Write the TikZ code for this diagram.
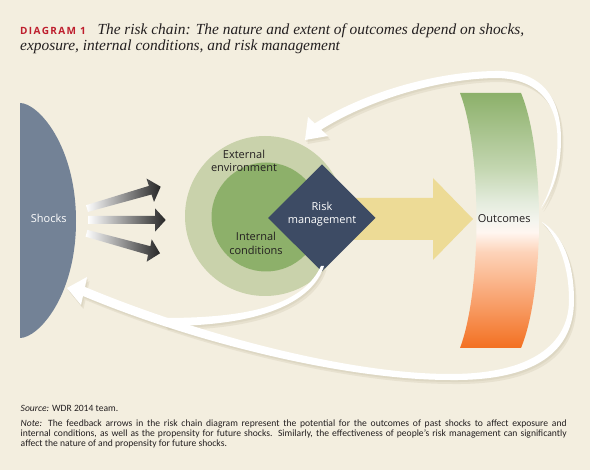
\documentclass[tikz,border=0pt]{standalone}
\usepackage{fontspec}
\setmainfont{Liberation Serif}
\setsansfont{Open Sans}
\newfontfamily\labfont{Open Sans}
\newfontfamily\notefont{Carlito}
\newfontfamily\capfont[LetterSpace=14]{Open Sans}
\definecolor{bg}{HTML}{F3EEDF}
\definecolor{shockc}{HTML}{738296}
\definecolor{outerc}{HTML}{C9D2AB}
\definecolor{innerc}{HTML}{8DB06A}
\definecolor{diamc}{HTML}{3D4B64}
\definecolor{yelc}{HTML}{EDDB96}
\definecolor{darktext}{HTML}{231F20}
\definecolor{titlered}{HTML}{BE1E2D}
\definecolor{shadowc}{HTML}{BDB49A}
\definecolor{oc0}{HTML}{F37021}
\definecolor{oc1}{HTML}{F8A06B}
\definecolor{oc2}{HTML}{FDD3B9}
\definecolor{oc3}{HTML}{FFF6F0}
\definecolor{oc4}{HTML}{F5F5EF}
\definecolor{oc5}{HTML}{E4ECDD}
\definecolor{oc6}{HTML}{C3D6B0}
\definecolor{oc7}{HTML}{8CB06A}
\pgfdeclareverticalshading{outcomesh}{100bp}{color(0bp)=(oc0); color(25bp)=(oc0); color(34bp)=(oc1); color(43.8bp)=(oc2); color(47.7bp)=(oc3); color(49.7bp)=(oc4); color(53.6bp)=(oc5); color(60.3bp)=(oc6); color(75bp)=(oc7); color(100bp)=(oc7)}
\def\TopArrow{(314.8,123.4) .. controls (360,95) and (430,72) .. (495,71) .. controls (540,70) and (561,95) .. (561,140) .. controls (561,170) and (552,193) .. (541,208) .. controls (551,190) and (557.5,168) .. (557.5,140) .. controls (557.5,100) and (535,78) .. (495,78) .. controls (435,79) and (365,102) .. (321.2,129.6) -- (328,136) -- (305,140) -- (308,117) -- cycle}
\def\BotArrow{(85,287) .. controls (200,335) and (350,374) .. (450,374) .. controls (530,374) and (569,345) .. (569,300) .. controls (569,262) and (556,236) .. (542,222) .. controls (562,234) and (574,262) .. (574,300) .. controls (574,352) and (535,381) .. (450,380) .. controls (350,380) and (200,345) .. (83,296) -- (81,305) -- (67,288) -- (87,277) -- cycle}
\def\BranchArrow{(321,266) .. controls (305,300) and (262,318) .. (165,318) -- (165,326) .. controls (262,326) and (312,302) .. (324,266) -- cycle}
\begin{document}
\begin{tikzpicture}[x=1pt,y=-1pt,
  lab/.style={font=\labfont\fontsize{11}{13.5}\selectfont, align=center, inner sep=0pt, text=darktext},
  shockarrow/.style={left color=white, right color=black!85},
  whitearrow/.style={fill=white},
  shadowlayer/.style={fill=shadowc, opacity=0.22},
  titletext/.style={anchor=base west, inner sep=0pt, text=darktext, font=\itshape\fontsize{15.4}{17}\selectfont},
  notetext/.style={font=\notefont\fontsize{9.6}{9.7}\selectfont, text=darktext, inner sep=0pt, anchor=base west}]
\useasboundingbox (0,0) rectangle (590,470);
\fill[bg] (0,0) rectangle (590,470);
% title
\node[anchor=base west, inner sep=0pt, text=titlered, font=\capfont\bfseries\fontsize{10}{11}\selectfont] (dlabel) at (20,35) {DIAGRAM 1};
\node[titletext] (title1) at (97.3,35) {The risk chain: The nature and extent of outcomes depend on shocks,};
\node[titletext] (title2) at (20,50.5) {exposure, internal conditions, and risk management};
% shocks
\fill[shockc] (20,103) .. controls (38,103) and (76,145) .. (76,221) .. controls (76,297) and (38,338) .. (20,338) -- cycle;
\node[lab, text=white] (shocks) at (48.7,218) {Shocks};
% shock arrows
\shade[shockarrow] (86,205.2) -- (148.9,185.9) -- (146.5,178.5) -- (160.7,186.7) -- (154,202) -- (151.5,194.5) -- (88,211.9) -- cycle;
\shade[shockarrow] (88,216) -- (155,216) -- (155,208.3) -- (165.7,220) -- (155,231.7) -- (155,224) -- (88,224) -- cycle;
\shade[shockarrow] (87.4,229.9) -- (150.4,246.2) -- (151.7,239.3) -- (160,253.3) -- (146.7,261.7) -- (148,254.8) -- (85.6,236.7) -- cycle;
% circles
\fill[outerc] (265,216) circle[radius=80];
\fill[innerc] (266,217) circle[radius=54.5];
% yellow arrow
\fill[yelc] (345,198) -- (433,198) -- (433,178) -- (473,219) -- (433,260) -- (433,240) -- (345,240) -- cycle;
% diamond
\fill[diamc] (268,218) -- (322,164.5) -- (375.5,218) -- (322,271.5) -- cycle;
\node[lab] (ext) at (244,161) {External\\environment};
\node[lab] (int) at (256,243.5) {Internal\\conditions};
\node[lab, text=white] (risk) at (322,214) {Risk\\management};
% outcomes band
\shade[shading=outcomesh] (460,93) -- (521,93) .. controls (545,150) and (545,290) .. (521,348) -- (460,348) .. controls (482,290) and (482,150) .. (460,93) -- cycle;
\node[lab] (outc) at (504.2,219) {Outcomes};
% feedback arrows shadows
\begin{scope}[shift={(2.5,4)}]
\fill[shadowlayer] \TopArrow;
\fill[shadowlayer] \BotArrow;
\fill[shadowlayer] \BranchArrow;
\end{scope}
\begin{scope}[shift={(1.2,2)}]
\fill[shadowlayer] \TopArrow;
\fill[shadowlayer] \BotArrow;
\fill[shadowlayer] \BranchArrow;
\end{scope}
% feedback arrows
\fill[whitearrow] \TopArrow;
\fill[whitearrow] \BotArrow;
\fill[whitearrow] \BranchArrow;
% notes
\node[notetext] (src) at (20.5,411.5) {\textit{Source:} WDR 2014 team.};
\node[notetext] (note1) at (20.5,427) {\makebox[546pt][s]{\textit{Note:} The feedback arrows in the risk chain diagram represent the potential for the outcomes of past shocks to affect exposure and}};
\node[notetext] (note2) at (20.5,436.7) {\makebox[546pt][s]{internal conditions, as well as the propensity for future shocks. Similarly, the effectiveness of people’s risk management can significantly}};
\node[notetext] (note3) at (20.5,446.4) {affect the nature of and propensity for future shocks.};
\end{tikzpicture}
\end{document}
